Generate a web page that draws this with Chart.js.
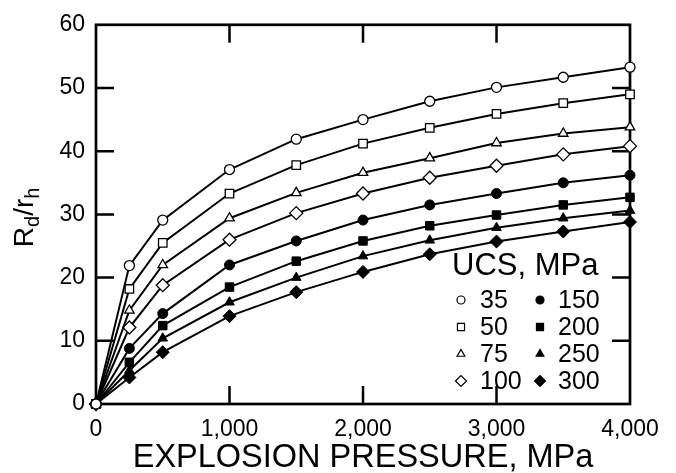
<!DOCTYPE html>
<html>
<head>
<meta charset="utf-8">
<script src="https://cdn.jsdelivr.net/npm/chart.js@4/dist/chart.umd.min.js"></script>
<style>
  html, body { margin: 0; padding: 0; background: #fff; }
  #wrap { width: 676px; height: 473px; }
</style>
</head>
<body>
<div id="wrap"><canvas id="chart" width="676" height="473"></canvas></div>
<script>
const pressures = [0, 250, 500, 1000, 1500, 2000, 2500, 3000, 3500, 4000];
const ucsLabels = ['35', '50', '75', '100', '150', '200', '250', '300'];
const ucs35  = [0, 21.9, 29.1, 37.1, 41.9, 45.0, 47.9, 50.1, 51.7, 53.3];
const ucs50  = [0, 18.2, 25.5, 33.3, 37.8, 41.2, 43.7, 45.9, 47.6, 49.0];
const ucs75  = [0, 14.8, 22.0, 29.4, 33.4, 36.6, 38.9, 41.3, 42.8, 43.8];
const ucs100 = [0, 12.1, 18.8, 26.0, 30.2, 33.3, 35.8, 37.7, 39.5, 40.8];
const ucs150 = [0, 8.8, 14.3, 22.0, 25.8, 29.1, 31.5, 33.3, 35.0, 36.2];
const ucs200 = [0, 6.6, 12.4, 18.5, 22.6, 25.8, 28.2, 29.9, 31.5, 32.7];
const ucs250 = [0, 5.3, 10.4, 16.1, 20.0, 23.4, 25.9, 27.9, 29.4, 30.6];
const ucs300 = [0, 4.2, 8.2, 13.9, 17.7, 20.9, 23.7, 25.7, 27.3, 28.8];
const xTicks = [0, 1000, 2000, 3000, 4000];
const yTicks = [0, 10, 20, 30, 40, 50, 60];

const series = [ucs35, ucs50, ucs75, ucs100, ucs150, ucs200, ucs250, ucs300];
const markers = ['circle', 'rect', 'triangle', 'rectRot', 'circle', 'rect', 'triangle', 'rectRot'];
const markerSize = { circle: 5, rect: 6, triangle: 5.5, rectRot: 6.5 };
const legendSize = { circle: 4, rect: 5, triangle: 4.5, rectRot: 5.5 };
const FONT = "'Liberation Sans', Arial, sans-serif";

const datasets = series.map((vals, i) => ({
  label: ucsLabels[i],
  data: pressures.map((p, j) => ({ x: p, y: vals[j] })),
  borderColor: '#000',
  borderWidth: 2,
  tension: 0,
  pointStyle: markers[i],
  pointRadius: markerSize[markers[i]],
  pointBackgroundColor: i < 4 ? '#fff' : '#000',
  pointBorderColor: '#000',
  pointBorderWidth: i < 4 ? 1.3 : 1,
  clip: false
}));

function drawMarker(ctx, style, r, x, y, filled) {
  ctx.save();
  ctx.fillStyle = filled ? '#000' : '#fff';
  ctx.strokeStyle = '#000';
  ctx.lineWidth = 1.2;
  Chart.helpers.drawPoint(ctx, { pointStyle: style, radius: r, borderWidth: 1.2, rotation: 0 }, x, y);
  ctx.restore();
}

const decorations = {
  id: 'decorations',
  beforeDatasetsDraw(chart) {
    const { ctx, chartArea: a, scales } = chart;
    ctx.save();
    ctx.strokeStyle = '#000';
    ctx.lineWidth = 2.7;
    ctx.strokeRect(a.left, a.top, a.right - a.left, a.bottom - a.top);
    ctx.lineWidth = 2.5;
    ctx.beginPath();
    xTicks.slice(1, -1).forEach(v => {
      const px = scales.x.getPixelForValue(v);
      ctx.moveTo(px, a.bottom); ctx.lineTo(px, a.bottom - 18);
      ctx.moveTo(px, a.top); ctx.lineTo(px, a.top + 18);
    });
    yTicks.slice(1, -1).forEach(v => {
      const py = scales.y.getPixelForValue(v);
      ctx.moveTo(a.left, py); ctx.lineTo(a.left + 18, py);
      ctx.moveTo(a.right, py); ctx.lineTo(a.right - 18, py);
    });
    ctx.stroke();
    ctx.restore();
  },
  afterDraw(chart) {
    const { ctx, chartArea: a } = chart;
    ctx.save();
    ctx.fillStyle = '#000';

    // x axis title
    ctx.font = '32.5px ' + FONT;
    ctx.textAlign = 'center';
    ctx.textBaseline = 'alphabetic';
    ctx.fillText('EXPLOSION PRESSURE, MPa', (a.left + a.right) / 2, 467);

    // y axis title R_d/r_h
    ctx.save();
    ctx.translate(33, (a.top + a.bottom) / 2 + 3);
    ctx.rotate(-Math.PI / 2);
    ctx.textAlign = 'left';
    const parts = [['R', 28, 0], ['d', 20, 6], ['/', 28, 0], ['r', 28, 0], ['h', 20, 6]];
    let total = 0;
    parts.forEach(p => { ctx.font = p[1] + 'px ' + FONT; total += ctx.measureText(p[0]).width; });
    let x = -total / 2;
    parts.forEach(p => {
      ctx.font = p[1] + 'px ' + FONT;
      ctx.fillText(p[0], x, p[2]);
      x += ctx.measureText(p[0]).width;
    });
    ctx.restore();

    // legend inside plot
    ctx.textAlign = 'left';
    ctx.font = '31px ' + FONT;
    ctx.fillText('UCS, MPa', 452, 275);
    ctx.font = '25px ' + FONT;
    const colMarker = [461, 540];
    const colText = [480, 558];
    ucsLabels.forEach((lab, i) => {
      const col = i < 4 ? 0 : 1;
      const row = i % 4;
      const base = 308 + row * 27;
      drawMarker(ctx, markers[i], legendSize[markers[i]], colMarker[col], base - 8, i >= 4);
      ctx.fillStyle = '#000';
      ctx.fillText(lab, colText[col], base);
    });
    ctx.restore();
  }
};

new Chart(document.getElementById('chart').getContext('2d'), {
  type: 'line',
  data: { datasets },
  options: {
    responsive: false,
    animation: false,
    layout: { padding: { left: 0, right: 46, top: 17, bottom: 0 } },
    plugins: { legend: { display: false }, tooltip: { enabled: false } },
    scales: {
      x: {
        type: 'linear', min: 0, max: 4000,
        afterBuildTicks: s => { s.ticks = xTicks.map(v => ({ value: v })); },
        afterFit: s => { s.height = 69; },
        grid: { display: false, drawTicks: false },
        border: { display: false },
        ticks: {
          color: '#000', padding: 12, maxRotation: 0, autoSkip: false,
          font: { family: FONT, size: 23 },
          callback: v => v.toLocaleString('en-US')
        }
      },
      y: {
        type: 'linear', min: 0, max: 60,
        afterBuildTicks: s => { s.ticks = yTicks.map(v => ({ value: v })); },
        afterFit: s => { s.width = 96; },
        grid: { display: false, drawTicks: false },
        border: { display: false },
        ticks: {
          color: '#000', padding: 11, autoSkip: false,
          font: { family: FONT, size: 23 }
        }
      }
    }
  },
  plugins: [decorations]
});
</script>
</body>
</html>
